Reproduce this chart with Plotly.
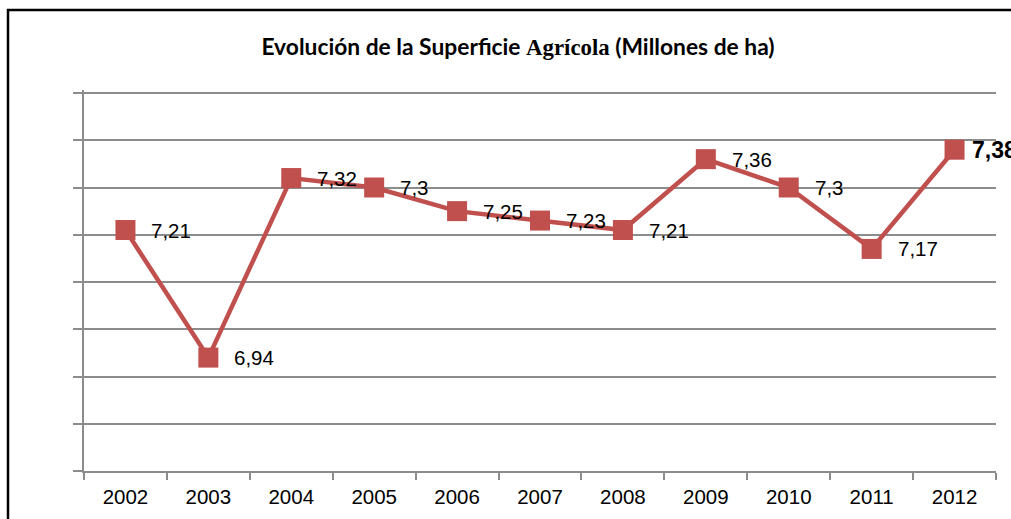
import plotly.graph_objects as go

years = ["2002", "2003", "2004", "2005", "2006", "2007", "2008", "2009", "2010", "2011", "2012"]
values = [7.21, 6.94, 7.32, 7.30, 7.25, 7.23, 7.21, 7.36, 7.30, 7.17, 7.38]
labels = ["7,21", "6,94", "7,32", "7,3", "7,25", "7,23", "7,21", "7,36", "7,3", "7,17", "7,38"]

RED = "#C0504D"
GRID = "#8C8C8C"

fig = go.Figure()
fig.add_trace(go.Scatter(
    x=years, y=values, mode="lines+markers",
    line=dict(color=RED, width=4.5),
    marker=dict(symbol="square", size=20, color=RED),
    hoverinfo="skip", showlegend=False,
))

last = len(values) - 1
for i, (yv, lab) in enumerate(zip(values, labels)):
    is_last = i == last
    fig.add_annotation(x=i, y=yv, xref="x", yref="y",
                       text=f"<b>{lab}</b>" if is_last else lab, showarrow=False,
                       xanchor="left", yanchor="middle", xshift=15 if is_last else 24,
                       font=dict(family="Liberation Sans", size=23 if is_last else 20.5,
                                 color="#000000"))

title = ('<b>Evolución de la Superficie '
         '<span style="font-family:Liberation Serif">Agrícola</span>'
         ' (Millones de ha)</b>')

fig.update_layout(
    width=1011, height=519,
    margin=dict(l=84, r=15, t=90, b=48),
    paper_bgcolor="white", plot_bgcolor="white",
    title=dict(text=title, x=518/1011, xanchor="center", xref="container",
               y=1-47/519, yanchor="middle",
               font=dict(family="Lato", size=22.8, color="#000000")),
    xaxis=dict(type="category", range=[-0.5, 10.5], showgrid=False,
               showline=True, linecolor=GRID, linewidth=1.5,
               ticks="outside", tickson="boundaries", ticklen=7, tickcolor=GRID, tickwidth=1.5,
               ticklabelstandoff=7,
               tickfont=dict(family="Liberation Sans", size=20.5, color="#000000")),
    yaxis=dict(range=[6.7, 6.7 + 0.8 * 381 / 378], dtick=0.1, tick0=6.7, showticklabels=False,
               showgrid=True, gridcolor=GRID, gridwidth=1.5,
               showline=True, linecolor=GRID, linewidth=1.5,
               ticks="outside", ticklen=9, tickcolor=GRID, tickwidth=1.5,
               zeroline=False),
    shapes=[dict(type="rect", xref="paper", yref="paper",
                 x0=(8-84)/912, x1=1.2, y0=(471-10)/381, y1=-0.5,
                 line=dict(color="#000000", width=2.5), layer="below")],
)

fig.write_html("out.html", config={"displayModeBar": False},
               post_script="document.body.style.margin='0';document.body.style.overflow='hidden';")
